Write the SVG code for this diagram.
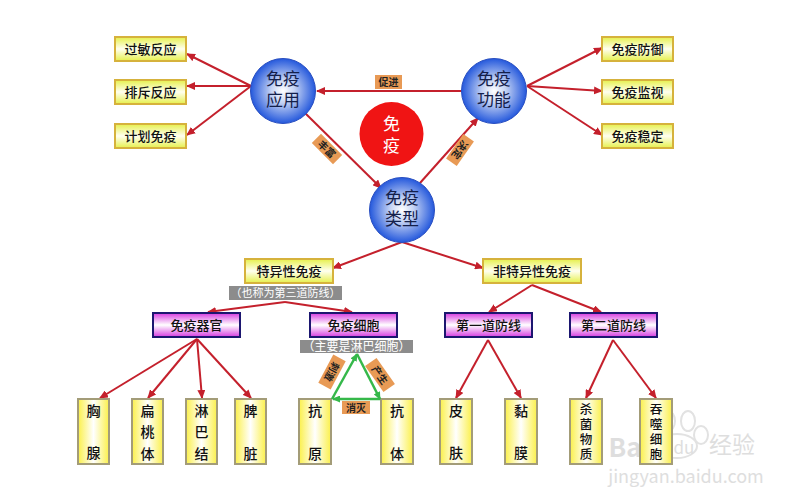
<svg xmlns="http://www.w3.org/2000/svg" width="802" height="502" viewBox="0 0 802 502">
<style>
text{font-family:"Noto Sans CJK SC","Noto Sans CJK JP",sans-serif;text-anchor:middle;fill:#111}
.y{fill:url(#gy);stroke:#d6b23c;stroke-width:2}
.p{fill:url(#gp);stroke:#1c1670;stroke-width:2}
.b{fill:url(#gb);stroke:#a39c78;stroke-width:2}
.c{fill:url(#gc);stroke:#2a4fc0;stroke-width:1}
.t{font-size:13px;font-weight:500}
.ct{font-size:17px;fill:#14204a}
.v{font-size:14px;font-weight:500}
.n{font-size:12.5px;font-weight:500}
.g{fill:#8c8c8c}
.gt{fill:#fff}
.o{fill:#e89a55}
.ot{font-size:10px;font-weight:700;fill:#222}
.r{fill:none;stroke:#c4202c;stroke-width:2;marker-end:url(#ar)}
.l{fill:none;stroke:#35b84a;stroke-width:2.5;marker-end:url(#ag)}
.wt{fill:#dedede}
.wp{fill:#fff;stroke:#e2e2e2;stroke-width:2}
</style>
<defs>
<linearGradient id="gy" x1="0" y1="0" x2="0" y2="1"><stop offset="0" stop-color="#e6f04a"/><stop offset=".5" stop-color="#fffff0"/><stop offset="1" stop-color="#e6f04a"/></linearGradient>
<linearGradient id="gp" x1="0" y1="0" x2="0" y2="1"><stop offset="0" stop-color="#d63ae0"/><stop offset=".5" stop-color="#fff"/><stop offset="1" stop-color="#d63ae0"/></linearGradient>
<linearGradient id="gb" x1="0" y1="0" x2="1" y2="0"><stop offset="0" stop-color="#fbf04a"/><stop offset=".5" stop-color="#fff"/><stop offset="1" stop-color="#fbf04a"/></linearGradient>
<radialGradient id="gc" cx=".5" cy=".5" r=".5"><stop offset="0" stop-color="#fff"/><stop offset=".35" stop-color="#c6d4f4"/><stop offset="1" stop-color="#2458dc"/></radialGradient>
<marker id="ar" markerUnits="userSpaceOnUse" markerWidth="9" markerHeight="8" refX="8" refY="4" orient="auto"><path d="M0 0L9 4L0 8Z" fill="#c4202c"/></marker>
<marker id="ag" markerUnits="userSpaceOnUse" markerWidth="8" markerHeight="7" refX="7" refY="3.5" orient="auto"><path d="M0 0L8 3.5L0 7Z" fill="#35b84a"/></marker>
</defs>
<rect width="802" height="502" fill="#fff"/>
<g id="watermark">
<ellipse class="wp" cx="677" cy="446" rx="20" ry="12"/><ellipse class="wp" cx="653" cy="433" rx="7" ry="9"/><ellipse class="wp" cx="668" cy="421" rx="7" ry="10"/><ellipse class="wp" cx="688" cy="421" rx="7" ry="10"/><ellipse class="wp" cx="701" cy="435" rx="7" ry="9"/>
<text class="wt" x="629" y="457" style="font-size:26px;font-weight:700">Bai</text><text class="wt" x="684" y="454" style="font-size:17px">du</text><text class="wt" x="732" y="453" style="font-size:23px">经验</text><text class="wt" x="686" y="483" style="font-size:18px">jingyan.baidu.com</text>
</g>
<g id="connectors">
<path class="r" d="M251 86L187 54"/><path class="r" d="M251 86L187 86"/><path class="r" d="M251 86L187 135"/>
<path class="r" d="M461 91L317 91"/><path class="r" d="M305 113L381 188"/><path class="r" d="M420 183L478 118"/>
<path class="r" d="M527 86L602 48"/><path class="r" d="M527 86L602 91"/><path class="r" d="M527 86L602 135"/>
<path class="r" d="M402 242L333 268"/><path class="r" d="M402 242L483 268"/>
<path class="r" d="M285 302L208 312"/><path class="r" d="M285 302L352 312"/>
<path class="r" d="M532 285L489 312"/><path class="r" d="M532 285L601 312"/>
<path class="r" d="M197 339L100 398"/><path class="r" d="M197 339L148 398"/><path class="r" d="M197 339L202 398"/><path class="r" d="M197 339L251 398"/>
<path class="r" d="M488 340L456 398"/><path class="r" d="M488 340L521 398"/>
<path class="r" d="M613 340L586 398"/><path class="r" d="M613 340L656 398"/>
</g>
<g id="n1"><circle class="c" cx="283" cy="91" r="32.5"/><text class="ct" x="283" y="85">免疫</text><text class="ct" x="283" y="106">应用</text></g>
<g id="n2"><circle class="c" cx="494" cy="91" r="32.5"/><text class="ct" x="494" y="85">免疫</text><text class="ct" x="494" y="106">功能</text></g>
<g id="n3"><circle class="c" cx="402" cy="210" r="32.5"/><text class="ct" x="402" y="204">免疫</text><text class="ct" x="402" y="225">类型</text></g>
<g id="n4"><circle cx="391.5" cy="134" r="32" fill="#f01414"/><text class="ct" style="fill:#fff" x="391.5" y="130">免</text><text class="ct" style="fill:#fff" x="391.5" y="152">疫</text></g>
<g id="a1"><rect class="y" x="115" y="37" width="71" height="24"/><text class="t" x="150.5" y="54">过敏反应</text></g>
<g id="a2"><rect class="y" x="115" y="80" width="71" height="24"/><text class="t" x="150.5" y="97">排斥反应</text></g>
<g id="a3"><rect class="y" x="115" y="124" width="71" height="24"/><text class="t" x="150.5" y="141">计划免疫</text></g>
<g id="f1"><rect class="y" x="602" y="37" width="71" height="24"/><text class="t" x="637.5" y="54">免疫防御</text></g>
<g id="f2"><rect class="y" x="602" y="80" width="71" height="24"/><text class="t" x="637.5" y="97">免疫监视</text></g>
<g id="f3"><rect class="y" x="602" y="124" width="71" height="24"/><text class="t" x="637.5" y="141">免疫稳定</text></g>
<g id="s1"><rect class="y" x="245" y="259" width="88" height="24"/><text class="t" x="289" y="276">特异性免疫</text></g>
<g id="s2"><rect class="y" x="483" y="259" width="98" height="24"/><text class="t" x="532" y="276">非特异性免疫</text></g>
<g id="s1n"><rect class="g" x="229" y="286" width="113" height="14"/><text class="gt" style="font-size:11px" x="285.5" y="297">（也称为第三道防线）</text></g>
<g id="s3n"><rect class="g" x="300" y="340" width="113" height="13"/><text class="gt" style="font-size:12px" x="356.5" y="351">（主要是淋巴细胞）</text></g>
<g id="p1"><rect class="p" x="153" y="313" width="87" height="24"/><text class="t" x="196.5" y="330">免疫器官</text></g>
<g id="p2"><rect class="p" x="310" y="313" width="87" height="24"/><text class="t" x="353.5" y="330">免疫细胞</text></g>
<g id="p3"><rect class="p" x="445" y="313" width="87" height="24"/><text class="t" x="488.5" y="330">第一道防线</text></g>
<g id="p4"><rect class="p" x="570" y="313" width="87" height="24"/><text class="t" x="613.5" y="330">第二道防线</text></g>
<g id="b1"><rect class="b" x="78" y="399" width="31" height="65"/><text class="v" x="93.5" y="416">胸</text><text class="v" x="93.5" y="458">腺</text></g>
<g id="b2"><rect class="b" x="132" y="399" width="31" height="65"/><text class="v" x="147.5" y="416">扁</text><text class="v" x="147.5" y="437">桃</text><text class="v" x="147.5" y="459">体</text></g>
<g id="b3"><rect class="b" x="186" y="399" width="31" height="65"/><text class="v" x="201.5" y="416">淋</text><text class="v" x="201.5" y="437">巴</text><text class="v" x="201.5" y="459">结</text></g>
<g id="b4"><rect class="b" x="235" y="399" width="31" height="65"/><text class="v" x="250.5" y="416">脾</text><text class="v" x="250.5" y="459">脏</text></g>
<g id="b5"><rect class="b" x="299" y="399" width="32" height="65"/><text class="v" x="315" y="416">抗</text><text class="v" x="315" y="459">原</text></g>
<g id="b6"><rect class="b" x="381" y="399" width="32" height="65"/><text class="v" x="397" y="416">抗</text><text class="v" x="397" y="459">体</text></g>
<g id="b7"><rect class="b" x="440" y="399" width="32" height="65"/><text class="v" x="456" y="416">皮</text><text class="v" x="456" y="458">肤</text></g>
<g id="b8"><rect class="b" x="505" y="399" width="32" height="65"/><text class="v" x="521" y="416">黏</text><text class="v" x="521" y="458">膜</text></g>
<g id="b9"><rect class="b" x="570" y="399" width="32" height="65"/><text class="n" x="586" y="414">杀</text><text class="n" x="586" y="429">菌</text><text class="n" x="586" y="444">物</text><text class="n" x="586" y="459">质</text></g>
<g id="b10"><rect class="b" x="640" y="399" width="32" height="65"/><text class="n" x="656" y="414">吞</text><text class="n" x="656" y="429">噬</text><text class="n" x="656" y="444">细</text><text class="n" x="656" y="459">胞</text></g>
<g id="triangle"><path class="l" d="M332 399L357 354"/><path class="l" d="M357 354L380 399"/><path class="l" d="M380 399L333 399"/></g>
<g id="labels">
<rect class="o" x="375" y="75" width="27" height="14"/><text class="ot" x="388.5" y="86">促进</text>
<g transform="translate(327 149) rotate(45)"><rect class="o" x="-15" y="-6.5" width="30" height="13"/><text class="ot" x="0" y="4">丰富</text></g>
<g transform="translate(460 150) rotate(125)"><rect class="o" x="-15" y="-6.5" width="30" height="13"/><text class="ot" x="0" y="4">决定</text></g>
<g transform="translate(332 372) rotate(118)"><rect class="o" x="-16" y="-7" width="32" height="14"/><text class="ot" x="0" y="4">刺激</text></g>
<g transform="translate(380 375) rotate(55)"><rect class="o" x="-16" y="-7" width="32" height="14"/><text class="ot" x="0" y="4">产生</text></g>
<rect class="o" x="342" y="401" width="28" height="13"/><text class="ot" x="356" y="412">消灭</text>
</g>
</svg>
